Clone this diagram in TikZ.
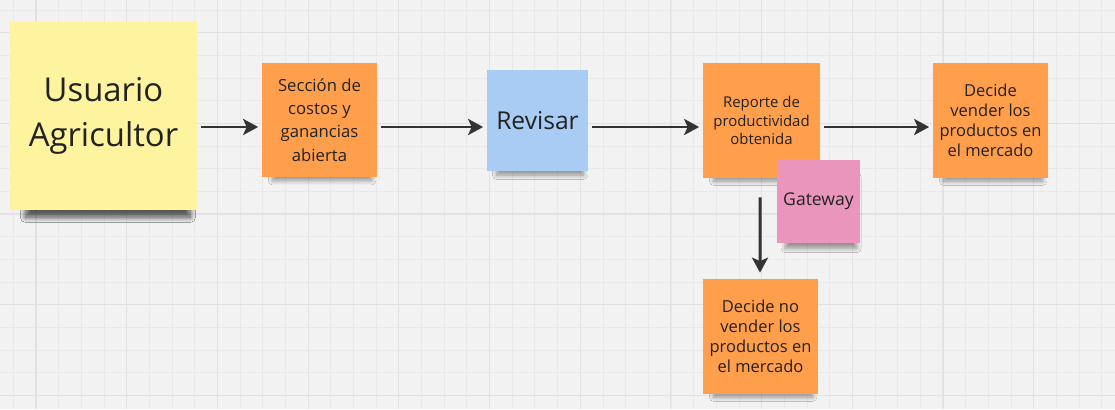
\documentclass[tikz,border=0pt]{standalone}
\usepackage{fontspec}
\setmainfont{Open Sans}
\usetikzlibrary{arrows.meta, shadows.blur}

\definecolor{board}{HTML}{F2F2F2}
\definecolor{gridline}{HTML}{E9E9E9}
\definecolor{gridmajor}{HTML}{E2E2E2}
\definecolor{ink}{HTML}{222222}
\definecolor{arrowink}{HTML}{333333}
\definecolor{noteyellow}{HTML}{FEF39E}
\definecolor{noteorange}{HTML}{FF9F4C}
\definecolor{noteblue}{HTML}{A9CCF4}
\definecolor{notepink}{HTML}{EA95BC}

\begin{document}
\begin{tikzpicture}[x=0.02cm, y=-0.02cm,
  note/.style={minimum width=2.3cm, minimum height=2.3cm, inner sep=1pt, align=center, text=ink,
    blur shadow={shadow xshift=0.06cm, shadow yshift=-0.26cm, shadow scale=0.86, shadow opacity=40,
      shadow blur radius=0.1cm, shadow blur steps=10}},
  small/.style={font=\fontsize{9.4}{11.4}\selectfont},
  link/.style={draw=arrowink, line width=1.7pt, shorten <=0.08cm, shorten >=0.07cm,
    -{Stealth[length=0.3cm, width=0.32cm, inset=0.07cm]}}]
\useasboundingbox[fill=board] (0,0) rectangle (1115,409);

% board grid
\foreach \x in {13.3,35.975,...,1115} \draw[gridline, line width=0.4pt] (\x,0) -- (\x,409);
\foreach \y in {9.9,32.575,...,409} \draw[gridline, line width=0.4pt] (0,\y) -- (1115,\y);
\foreach \x in {36,126.7,...,1115} \draw[gridmajor, line width=0.6pt] (\x,0) -- (\x,409);
\foreach \y in {32.6,123.3,...,409} \draw[gridmajor, line width=0.6pt] (0,\y) -- (1115,\y);

% sticky notes
\node[note, fill=noteyellow, minimum width=3.74cm, minimum height=3.76cm,
  blur shadow={shadow xshift=0.1cm, shadow yshift=-0.42cm, shadow scale=0.88, shadow opacity=40,
    shadow blur radius=0.12cm, shadow blur steps=10},
  font=\fontsize{18.7}{26}\selectfont] (usuario) at (103.5,116) {Usuario\\Agricultor};
\node[note, fill=noteorange, font=\fontsize{9.5}{13.2}\selectfont] (seccion) at (319.5,120)
  {Sección de\\costos y\\ganancias\\abierta};
\node[note, fill=noteblue, minimum width=2.02cm, minimum height=2.02cm,
  font=\fontsize{14}{16}\selectfont] (revisar) at (537.5,120.5) {Revisar};
\node[note, fill=noteorange, minimum width=2.34cm, font=\fontsize{8.5}{10.4}\selectfont] (reporte) at (761.5,120.5)
  {Reporte de\\productividad\\obtenida};
\node[note, fill=notepink, minimum width=1.66cm, minimum height=1.66cm,
  font=\fontsize{10}{12}\selectfont] (gateway) at (818.5,201.5) {Gateway};
\node[note, fill=noteorange, small] (vende) at (990.5,120.5)
  {Decide\\vender los\\productos en\\el mercado};
\node[note, fill=noteorange, small] (novende) at (760.5,336.5)
  {Decide no\\vender los\\productos en\\el mercado};

% flow
\draw[link] ([yshift=-0.14cm]usuario.east |- seccion.west) -- ([yshift=-0.14cm]seccion.west);
\draw[link] ([yshift=-0.14cm]seccion.east) -- ([yshift=-0.14cm]revisar.west |- seccion.west);
\draw[link] ([yshift=-0.14cm]revisar.east |- seccion.east) -- ([yshift=-0.14cm]reporte.west |- seccion.west);
\draw[link] ([yshift=-0.14cm]reporte.east |- seccion.east) -- ([yshift=-0.14cm]vende.west |- seccion.west);
\draw[link, shorten <=0.38cm, shorten >=0.12cm] ([xshift=-0.03cm]reporte.south) -- ([xshift=-0.01cm]novende.north);
\end{tikzpicture}
\end{document}
